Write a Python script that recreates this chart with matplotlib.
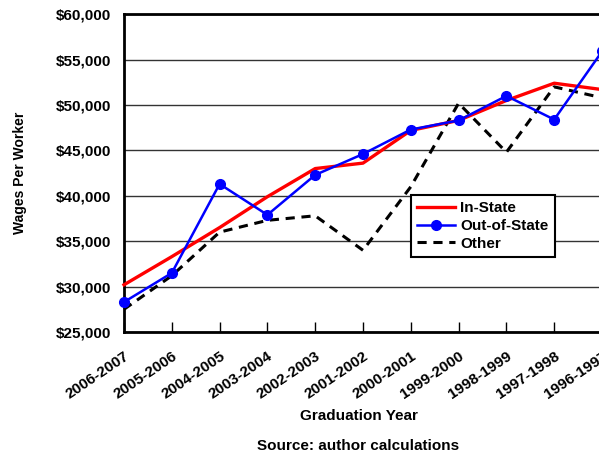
import numpy as np
import matplotlib.pyplot as plt
from matplotlib.ticker import FuncFormatter

plt.rcParams['font.family'] = ['Liberation Sans', 'DejaVu Sans']
plt.rcParams['font.weight'] = 'bold'

# --- datos ---
years = ['2006-2007', '2005-2006', '2004-2005', '2003-2004', '2002-2003',
         '2001-2002', '2000-2001', '1999-2000', '1998-1999', '1997-1998',
         '1996-1997']
in_state = [30200, 33300, 36500, 39900, 43000, 43600, 47200, 48300, 50500, 52400, 51700]
out_state = [28300, 31500, 41300, 37900, 42300, 44600, 47300, 48300, 51000, 48400, 55900]
other = [27500, 31200, 36000, 37300, 37800, 34000, 41000, 50200, 44800, 52000, 50800]

x = np.arange(len(years))

fig = plt.figure(figsize=(5.99, 4.54), dpi=100)
ax = fig.add_axes([0.207, 0.2687, 0.798, 0.700])

ax.plot(x, in_state, color='#ff0000', lw=2.4, label='In-State', zorder=3, clip_on=False)
ax.plot(x, out_state, color='#0000ff', lw=1.8, marker='o', ms=7,
        label='Out-of-State', zorder=4, clip_on=False)
ax.plot(x, other, color='black', lw=2.2, ls=(0, (3, 2.2)), label='Other', zorder=2,
        clip_on=False)

ax.set_xlim(0, 10)
ax.set_ylim(25000, 60000)
ax.set_yticks(np.arange(25000, 60001, 5000))
ax.yaxis.set_major_formatter(FuncFormatter(lambda v, p: f'${v:,.0f}'))
ax.set_xticks(x)
ax.set_xticklabels(years, rotation=34, ha='right', rotation_mode='anchor')

ax.grid(axis='y', color='#333333', lw=1.0)
ax.set_axisbelow(True)
for s in ['left', 'bottom', 'top']:
    ax.spines[s].set_linewidth(2)
ax.spines['right'].set_visible(False)
ax.tick_params(axis='y', length=0, pad=9, labelsize=11)
ax.tick_params(axis='x', direction='in', length=7, width=1, pad=12, labelsize=11)

ax.set_ylabel('Wages Per Worker', fontsize=10, fontweight='bold', labelpad=21)
fig.text(0.599, 0.083, 'Graduation Year', ha='center', va='center', fontsize=11, fontweight='bold')
fig.text(0.598, 0.018, 'Source: author calculations', ha='center', va='center',
         fontsize=11, fontweight='bold')

leg = ax.legend(loc='upper left', bbox_to_anchor=(0.600, 0.431), fancybox=False,
                edgecolor='black', framealpha=1, fontsize=11, handlelength=2.5,
                borderpad=0.4, labelspacing=0.25, handletextpad=0.35, borderaxespad=0)
leg.get_frame().set_linewidth(1.5)

fig.savefig('out.png', dpi=100)
